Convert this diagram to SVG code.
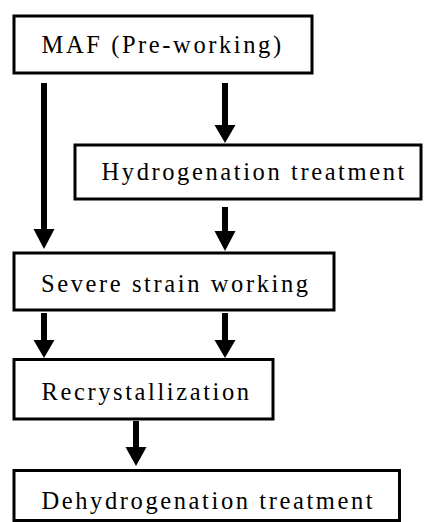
<svg xmlns="http://www.w3.org/2000/svg" width="424" height="522" viewBox="0 0 424 522">
<style>
.box{fill:#fff;stroke:#000;stroke-width:3}
.lbl{font-family:"Liberation Serif","Times New Roman",serif;font-size:24.5px;letter-spacing:2.6px;fill:#000}
.shaft{stroke:#000;stroke-width:6;fill:none}
.head{fill:#000}
</style>
<rect width="424" height="522" fill="#fff"/>
<g id="connectors">
<line class="shaft" x1="44" y1="83" x2="44" y2="231"/><polygon class="head" points="33.5,229 54.5,229 44,249"/>
<line class="shaft" x1="225" y1="83" x2="225" y2="127"/><polygon class="head" points="214.5,125 235.5,125 225,143"/>
<line class="shaft" x1="225" y1="207" x2="225" y2="233"/><polygon class="head" points="214.5,231 235.5,231 225,251"/>
<line class="shaft" x1="44" y1="313" x2="44" y2="342"/><polygon class="head" points="33.5,340 54.5,340 44,358"/>
<line class="shaft" x1="225" y1="313" x2="225" y2="342"/><polygon class="head" points="214.5,340 235.5,340 225,358"/>
<line class="shaft" x1="136" y1="421" x2="136" y2="449"/><polygon class="head" points="125.5,447 146.5,447 136,466"/>
</g>
<g id="n1"><rect class="box" x="14" y="16" width="298" height="57"/><text class="lbl" x="41.5" y="53">MAF (Pre-working)</text></g>
<g id="n2"><rect class="box" x="75" y="145" width="346" height="54"/><text class="lbl" x="101.5" y="179.5">Hydrogenation treatment</text></g>
<g id="n3"><rect class="box" x="14" y="253" width="320" height="57"/><text class="lbl" x="41" y="291.5">Severe strain working</text></g>
<g id="n4"><rect class="box" x="14" y="359.5" width="259" height="59.5"/><text class="lbl" x="41.5" y="400">Recrystallization</text></g>
<g id="n5"><rect class="box" x="14" y="470.5" width="385.5" height="50"/><text class="lbl" x="41.5" y="508.5">Dehydrogenation treatment</text></g>
</svg>
